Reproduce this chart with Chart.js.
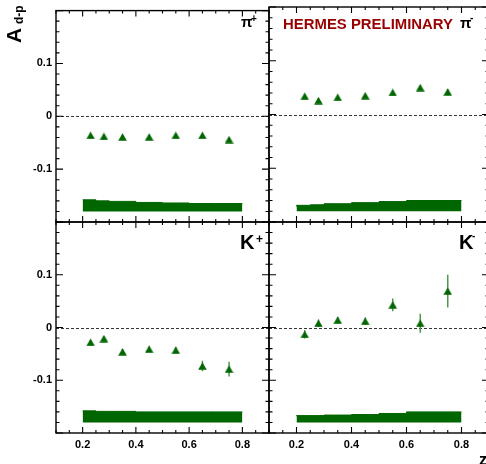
<!DOCTYPE html>
<html><head><meta charset="utf-8">
<script src="https://cdn.jsdelivr.net/npm/chart.js@4"></script>
<style>
html,body{margin:0;padding:0;background:#fff;overflow:hidden;}
#wrap{position:relative;width:486px;height:464px;overflow:hidden;background:#fff;}
canvas{position:absolute;left:0;top:0;}
</style></head><body>
<div id="wrap">
<canvas id="cTL" width="496" height="464"></canvas>
<canvas id="cTR" width="496" height="464"></canvas>
<canvas id="cBL" width="496" height="464"></canvas>
<canvas id="cBR" width="496" height="464"></canvas>
</div>
<script>
// ---- data ----
const zValues   = [0.23, 0.28, 0.35, 0.45, 0.55, 0.65, 0.75];
const piPlus    = [-0.036, -0.038, -0.039, -0.039, -0.036, -0.036, -0.044];
const piPlusErr = [0.003, 0.003, 0.003, 0.003, 0.003, 0.003, 0.004];
const piMinus   = [0.034, 0.026, 0.032, 0.035, 0.041, 0.050, 0.042];
const piMinusErr= [0.003, 0.003, 0.003, 0.003, 0.004, 0.004, 0.005];
const kPlus     = [-0.028, -0.021, -0.046, -0.041, -0.043, -0.073, -0.079];
const kPlusErr  = [0.004, 0.004, 0.005, 0.005, 0.006, 0.010, 0.014];
const kMinus    = [-0.013, 0.008, 0.014, 0.012, 0.043, 0.008, 0.069];
const kMinusErr = [0.008, 0.007, 0.006, 0.007, 0.012, 0.018, 0.031];

const sysEdges  = [0.2, 0.25, 0.3, 0.4, 0.5, 0.6, 0.7, 0.8];
const sysBase   = -0.18;
const piPlusSys = [-0.158, -0.158, -0.160, -0.161, -0.163, -0.164, -0.165];
const piMinusSys= [-0.171, -0.169, -0.168, -0.166, -0.164, -0.162, -0.160];
const kPlusSys  = [-0.158, -0.158, -0.159, -0.159, -0.160, -0.160, -0.160];
const kMinusSys = [-0.168, -0.167, -0.167, -0.166, -0.165, -0.163, -0.160];

const xTickValues = [0.2, 0.4, 0.6, 0.8];
const xTickLabels = ['0.2', '0.4', '0.6', '0.8'];
const yTickValues = [-0.1, 0, 0.1];
const yTickLabels = ['-0.1', '0', '0.1'];

// ---- helpers ----
const CW = 496, CH = 464;
const GREEN = '#006600';
const FONT = 'Liberation Sans, Arial, Helvetica, sans-serif';
function lookup(v, vals, labs) {
  for (let i = 0; i < vals.length; i++) if (Math.abs(v - vals[i]) < 1e-6) return labs[i];
  return '';
}
function triImg() {
  const c = document.createElement('canvas'); c.width = 9; c.height = 8;
  const g = c.getContext('2d'); g.fillStyle = GREEN;
  g.beginPath(); g.moveTo(0.2, 7.8); g.lineTo(8.8, 7.8); g.lineTo(4.5, 0.3); g.closePath(); g.fill();
  return c;
}
const TRI = triImg();

const rootPlugin = {
  id: 'root',
  beforeDatasetsDraw(chart, args, o) {
    const ctx = chart.ctx, a = chart.chartArea, xs = chart.scales.x, ys = chart.scales.y;
    ctx.save();
    ctx.strokeStyle = '#333'; ctx.lineWidth = 1; ctx.setLineDash([3, 2]);
    const y0 = Math.round(ys.getPixelForValue(0)) + 0.5;
    ctx.beginPath(); ctx.moveTo(a.left, y0); ctx.lineTo(a.right, y0); ctx.stroke();
    ctx.setLineDash([]);
    ctx.strokeStyle = '#4d994d'; ctx.lineWidth = 1.5;
    o.vals.forEach((v, i) => {
      const px = xs.getPixelForValue(zValues[i]);
      ctx.beginPath();
      ctx.moveTo(px, ys.getPixelForValue(v - o.err[i]));
      ctx.lineTo(px, ys.getPixelForValue(v + o.err[i]));
      ctx.stroke();
    });
    ctx.restore();
  },
  afterDraw(chart, args, o) {
    const ctx = chart.ctx, a = chart.chartArea, xs = chart.scales.x, ys = chart.scales.y;
    ctx.save();
    ctx.strokeStyle = '#000'; ctx.lineWidth = 1.4;
    ctx.strokeRect(a.left, a.top, a.right - a.left, a.bottom - a.top);
    ctx.lineWidth = 1.1;
    ctx.beginPath();
    for (let i = -10; i <= 10; i++) {
      const py = ys.getPixelForValue(i * 0.02);
      const len = (i % 5 === 0) ? 7 : 3.5;
      ctx.moveTo(a.left, py); ctx.lineTo(a.left + len, py);
      ctx.moveTo(a.right, py); ctx.lineTo(a.right - len, py);
    }
    for (let i = 2; i <= 18; i++) {
      const v = i * 0.05;
      if (v < xs.min - 1e-9 || v > xs.max + 1e-9) continue;
      const px = xs.getPixelForValue(v);
      const len = (i % 4 === 0) ? 6 : 3;
      ctx.moveTo(px, a.bottom); ctx.lineTo(px, a.bottom - len);
      ctx.moveTo(px, a.top); ctx.lineTo(px, a.top + len);
    }
    ctx.stroke();
    ctx.fillStyle = '#000';
    ctx.textBaseline = 'alphabetic';
    (o.texts || []).forEach(t => {
      ctx.save();
      ctx.fillStyle = t.color || '#000';
      ctx.font = 'bold ' + t.size + 'px ' + FONT;
      if (t.w) {
        const m = ctx.measureText(t.t).width;
        ctx.translate(t.x, t.y); ctx.scale(t.w / m, 1); ctx.fillText(t.t, 0, 0);
      } else if (t.rot) {
        ctx.translate(t.x, t.y); ctx.rotate(-Math.PI / 2); ctx.fillText(t.t, 0, 0);
      } else {
        ctx.fillText(t.t, t.x, t.y);
      }
      ctx.restore();
    });
    ctx.restore();
  }
};

function makePanel(id, area, showX, showY, vals, err, sys, texts) {
  const yW = showY ? 40 : 0;
  const xH = showX ? 22 : 0;
  const bandData = sysEdges.map((e, i) => ({x: e, y: sys[Math.min(i, sys.length - 1)]}));
  const ptData = zValues.map((z, i) => ({x: z, y: vals[i]}));
  new Chart(document.getElementById(id), {
    type: 'scatter',
    data: {
      datasets: [
        { type: 'line', data: bandData, stepped: 'after', showLine: true,
          borderColor: GREEN, borderWidth: 1, backgroundColor: GREEN,
          fill: {value: sysBase}, pointRadius: 0, order: 2 },
        { data: ptData, pointStyle: TRI, pointRadius: 4, backgroundColor: GREEN,
          borderColor: GREEN, order: 1 }
      ]
    },
    options: {
      responsive: false, animation: false, devicePixelRatio: 1,
      layout: { padding: { left: area.l - yW, top: area.t, right: CW - area.r, bottom: CH - area.b - xH } },
      plugins: { legend: {display: false}, tooltip: {enabled: false},
                 root: { vals: vals, err: err, texts: texts } },
      scales: {
        x: { type: 'linear', min: 0.1, max: 0.9,
             border: {display: false}, grid: {display: false, drawTicks: false},
             ticks: { display: showX, stepSize: 0.1, autoSkip: false, maxRotation: 0, padding: 5,
                      color: '#000', font: {family: FONT, weight: 'bold', size: 11},
                      callback: v => lookup(v, xTickValues, xTickLabels) },
             afterFit: s => { s.height = xH; } },
        y: { type: 'linear', min: -0.2, max: 0.2,
             border: {display: false}, grid: {display: false, drawTicks: false},
             ticks: { display: showY, stepSize: 0.1, autoSkip: false, padding: 4,
                      color: '#000', font: {family: FONT, weight: 'bold', size: 11},
                      callback: v => lookup(v, yTickValues, yTickLabels) },
             afterFit: s => { s.width = yW; } }
      }
    },
    plugins: [rootPlugin]
  });
}

makePanel('cTL', {l: 56, t: 7, r: 269, b: 222}, false, true, piPlus, piPlusErr, piPlusSys, [
  {t: 'π', x: 241, y: 27, size: 15},
  {t: '+', x: 251, y: 22, size: 10},
  {t: 'A', x: 21, y: 43, size: 21, rot: true},
  {t: 'd-p', x: 23, y: 24, size: 12, rot: true}
]);
makePanel('cTR', {l: 269, t: 7, r: 489, b: 222}, false, false, piMinus, piMinusErr, piMinusSys, [
  {t: 'HERMES PRELIMINARY', x: 283, y: 29.3, size: 14, w: 170, color: '#990000'},
  {t: 'π', x: 460, y: 28, size: 15},
  {t: '-', x: 470, y: 21, size: 10}
]);
makePanel('cBL', {l: 56, t: 222, r: 269, b: 433}, true, true, kPlus, kPlusErr, kPlusSys, [
  {t: 'K', x: 240, y: 249.3, size: 20},
  {t: '+', x: 256, y: 243, size: 12}
]);
makePanel('cBR', {l: 269, t: 222, r: 489, b: 433}, true, false, kMinus, kMinusErr, kMinusSys, [
  {t: 'K', x: 459, y: 249.3, size: 20},
  {t: '-', x: 472, y: 239, size: 10},
  {t: 'z', x: 479, y: 465, size: 16}
]);
</script>
</body></html>
